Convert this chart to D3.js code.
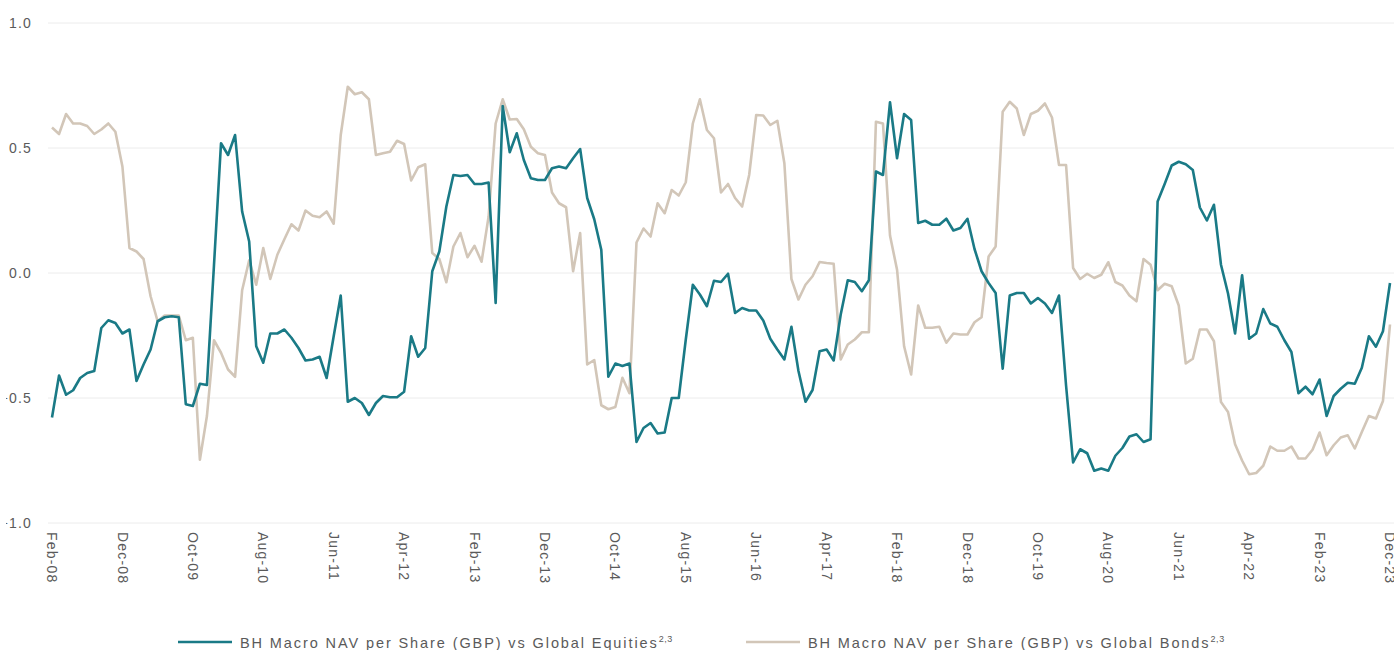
<!doctype html>
<html>
<head>
<meta charset="utf-8">
<title>BH Macro correlation</title>
<script src="https://cdn.jsdelivr.net/npm/d3@7"></script>
<style>
  body { margin: 0; background: #fff; }
  svg { display: block; }
  text { font-family: "Liberation Sans", Arial, sans-serif; fill: #5a5a5a; }
</style>
</head>
<body>
<script>

//DATA - MONTHLY ROLLING CORRELATIONS, FEB-08 TO DEC-23
var firstMonth = new Date(2008, 1, 1);
var lastMonth = new Date(2023, 11, 1);

var equities = [
  -0.578,-0.41,-0.487,-0.469,-0.42,-0.40,-0.392,-0.22,-0.189,-0.20,
  -0.242,-0.226,-0.432,-0.366,-0.306,-0.193,-0.177,-0.173,-0.177,-0.525,
  -0.532,-0.443,-0.448,0.03,0.519,0.472,0.552,0.246,0.126,-0.293,
  -0.359,-0.242,-0.242,-0.226,-0.259,-0.30,-0.35,-0.346,-0.335,-0.42,
  -0.253,-0.09,-0.515,-0.50,-0.52,-0.568,-0.52,-0.492,-0.497,-0.497,
  -0.475,-0.253,-0.335,-0.30,0.007,0.086,0.266,0.392,0.388,0.392,
  0.356,0.356,0.362,-0.12,0.668,0.483,0.559,0.452,0.379,0.372,
  0.372,0.419,0.426,0.419,0.459,0.496,0.30,0.215,0.093,-0.415,
  -0.362,-0.372,-0.362,-0.676,-0.62,-0.60,-0.642,-0.638,-0.50,-0.50,
  -0.266,-0.047,-0.086,-0.133,-0.031,-0.036,-0.003,-0.16,-0.14,-0.15,
  -0.15,-0.19,-0.263,-0.306,-0.346,-0.215,-0.392,-0.515,-0.468,-0.313,
  -0.306,-0.35,-0.166,-0.029,-0.036,-0.073,-0.029,0.406,0.392,0.683,
  0.459,0.636,0.612,0.20,0.209,0.193,0.193,0.217,0.17,0.18,
  0.217,0.096,0.007,-0.04,-0.08,-0.383,-0.09,-0.08,-0.08,-0.122,
  -0.10,-0.122,-0.16,-0.09,-0.45,-0.758,-0.705,-0.721,-0.791,-0.782,
  -0.791,-0.731,-0.70,-0.654,-0.645,-0.676,-0.665,0.286,0.356,0.43,
  0.445,0.435,0.412,0.262,0.21,0.273,0.033,-0.082,-0.242,-0.009,
  -0.263,-0.242,-0.144,-0.202,-0.215,-0.269,-0.316,-0.481,-0.455,-0.485,
  -0.426,-0.572,-0.492,-0.463,-0.439,-0.443,-0.379,-0.253,-0.295,-0.233,
  -0.04
];

var bonds = [
  0.582,0.556,0.636,0.598,0.598,0.588,0.556,0.574,0.598,0.565,
  0.426,0.10,0.086,0.056,-0.093,-0.193,-0.17,-0.17,-0.17,-0.269,
  -0.259,-0.747,-0.572,-0.269,-0.319,-0.386,-0.415,-0.069,0.051,-0.047,
  0.10,-0.024,0.073,0.135,0.195,0.17,0.25,0.229,0.223,0.246,
  0.197,0.552,0.745,0.715,0.723,0.695,0.472,0.479,0.485,0.529,
  0.516,0.37,0.423,0.435,0.08,0.056,-0.037,0.106,0.16,0.063,
  0.109,0.045,0.226,0.598,0.695,0.614,0.616,0.575,0.505,0.479,
  0.472,0.322,0.279,0.263,0.007,0.16,-0.366,-0.348,-0.529,-0.545,
  -0.536,-0.419,-0.481,0.122,0.178,0.146,0.279,0.239,0.332,0.31,
  0.363,0.598,0.695,0.572,0.539,0.322,0.356,0.30,0.266,0.392,
  0.632,0.63,0.592,0.609,0.439,-0.024,-0.106,-0.047,-0.013,0.044,
  0.04,0.037,-0.346,-0.286,-0.266,-0.237,-0.237,0.605,0.598,0.15,
  0.013,-0.293,-0.406,-0.13,-0.219,-0.219,-0.215,-0.279,-0.242,-0.246,
  -0.246,-0.197,-0.177,0.066,0.106,0.645,0.685,0.658,0.552,0.636,
  0.649,0.678,0.622,0.432,0.432,0.02,-0.024,-0.003,-0.02,-0.007,
  0.043,-0.036,-0.05,-0.09,-0.113,0.056,0.033,-0.069,-0.043,-0.053,
  -0.13,-0.362,-0.343,-0.226,-0.226,-0.273,-0.516,-0.556,-0.685,-0.75,
  -0.805,-0.80,-0.771,-0.694,-0.711,-0.711,-0.694,-0.742,-0.742,-0.707,
  -0.638,-0.729,-0.689,-0.658,-0.649,-0.702,-0.636,-0.572,-0.582,-0.512,
  -0.206
];

var xTickLabels = ["Feb-08","Dec-08","Oct-09","Aug-10","Jun-11","Apr-12","Feb-13",
  "Dec-13","Oct-14","Aug-15","Jun-16","Apr-17","Feb-18","Dec-18","Oct-19",
  "Aug-20","Jun-21","Apr-22","Feb-23","Dec-23"];
var yTicks = [-1, -0.5, 0, 0.5, 1];

var seriesNames = ["BH Macro NAV per Share (GBP) vs Global Equities",
                   "BH Macro NAV per Share (GBP) vs Global Bonds"];
var seriesColours = ["#1a7a86", "#d2c6b8"];


//SIZES
var w = 1394;
var h = 650;

var fmtMonth = d3.timeFormat("%b-%y");
var months = d3.timeMonth.range(firstMonth, d3.timeMonth.offset(lastMonth, 1)).map(fmtMonth);

var x = d3.scalePoint().domain(months).range([52, 1390]);
var y = d3.scaleLinear().domain([-1, 1]).range([523, 23]);

var svg = d3.select("body").append("svg").attr("width", w).attr("height", h);


//GRIDLINES
svg.append("g")
  .selectAll("line")
  .data(yTicks)
  .enter()
  .append("line")
  .attr("x1", 48)
  .attr("x2", w)
  .attr("y1", function(d){ return y(d); })
  .attr("y2", function(d){ return y(d); })
  .attr("stroke", "#ececec")
  .attr("stroke-width", 1);


//Y LABELS (left edge is clipped like the original)
svg.append("clipPath").attr("id", "yclip")
  .append("rect").attr("x", -26).attr("y", 0).attr("width", 60).attr("height", h);

var yAxis = d3.axisLeft(y).tickValues(yTicks).tickSize(0).tickPadding(0)
  .tickFormat(d3.format(".1f"));

svg.append("g")
  .attr("transform", "translate(32,0)")
  .attr("clip-path", "url(#yclip)")
  .call(yAxis)
  .call(function(g){ g.select(".domain").remove(); })
  .selectAll("text")
  .attr("font-size", "14px")
  .attr("letter-spacing", "1.2px")
  .attr("fill", "#5a5a5a")
  .attr("font-family", "Liberation Sans, Arial, sans-serif");


//X LABELS (rotated)
svg.append("g")
  .selectAll("text")
  .data(xTickLabels)
  .enter()
  .append("text")
  .text(function(d){ return d; })
  .attr("transform", function(d){ return "translate(" + x(d) + ",532) rotate(90)"; })
  .attr("dy", "0.35em")
  .attr("font-size", "14px")
  .attr("letter-spacing", "1.2px")
  .attr("text-anchor", "start");


//LINES
var line = d3.line()
  .x(function(d, i){ return x(months[i]); })
  .y(function(d){ return y(d); });

svg.selectAll("path.series")
  .data([bonds, equities])
  .enter()
  .append("path")
  .attr("class", "series")
  .attr("d", line)
  .attr("fill", "none")
  .attr("stroke", function(d, i){ return i == 0 ? seriesColours[1] : seriesColours[0]; })
  .attr("stroke-width", 2.6)
  .attr("stroke-linejoin", "round");


//LEGEND
var legendX = [178, 746];
var legend = svg.selectAll("g.legend")
  .data(seriesNames)
  .enter()
  .append("g")
  .attr("class", "legend")
  .attr("transform", function(d, i){ return "translate(" + legendX[i] + ",642)"; });

legend.append("line")
  .attr("x1", 0).attr("x2", 54)
  .attr("y1", 0).attr("y2", 0)
  .attr("stroke", function(d, i){ return seriesColours[i]; })
  .attr("stroke-width", 2.6);

var legendText = legend.append("text")
  .attr("x", 62)
  .attr("y", 6)
  .attr("font-size", "14.5px")
  .attr("letter-spacing", "1.9px");

legendText.append("tspan").text(function(d){ return d; });
legendText.append("tspan")
  .text("2,3")
  .attr("font-size", "9px")
  .attr("letter-spacing", "0.6px")
  .attr("dy", "-6");

</script>
</body>
</html>
